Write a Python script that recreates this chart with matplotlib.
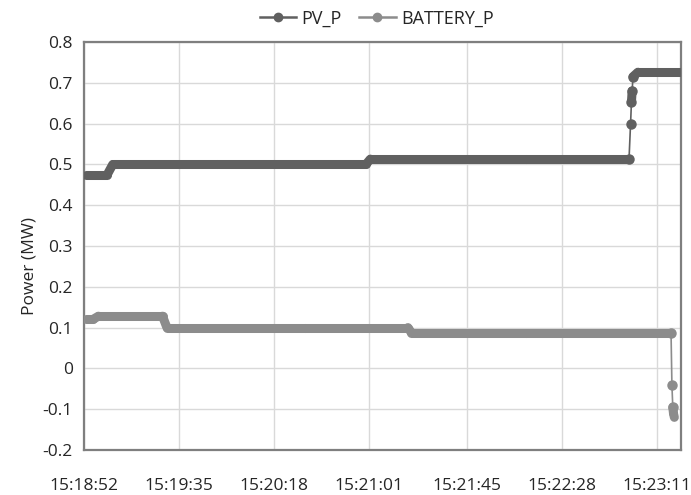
import matplotlib
matplotlib.use("Agg")
import matplotlib.pyplot as plt
import numpy as np
from matplotlib.collections import LineCollection
from matplotlib.lines import Line2D

# seconds after 15:18:52
pv_t = [1, 10.5, 13, 60, 127.5, 129.5, 200, 246.5, 247.2, 247.6, 247.9, 248.3, 250.5, 270]
pv_v = [0.475, 0.475, 0.50, 0.50, 0.50, 0.513, 0.513, 0.513, 0.60, 0.653, 0.68, 0.715, 0.726, 0.726]

bat_t = [1, 4, 6.5, 35.5, 37.5, 100, 146.5, 148, 200, 265.5, 265.9, 266.3, 266.6, 267]
bat_v = [0.12, 0.12, 0.128, 0.128, 0.10, 0.10, 0.10, 0.088, 0.088, 0.088, -0.041, -0.095, -0.11, -0.12]

tick_secs = [0, 43, 86, 129, 173, 216, 259]
tick_labels = ["15:18:52", "15:19:35", "15:20:18", "15:21:01", "15:21:45", "15:22:28", "15:23:11"]
y_ticks = [-0.2, -0.1, 0, 0.1, 0.2, 0.3, 0.4, 0.5, 0.6, 0.7, 0.8]
y_labels = ["-0.2", "-0.1", "0", "0.1", "0.2", "0.3", "0.4", "0.5", "0.6", "0.7", "0.8"]

plt.rcParams['font.family'] = ['Open Sans', 'DejaVu Sans']

fig = plt.figure(figsize=(6.91, 4.95), dpi=100)
ax = fig.add_axes([0.1216, 0.0909, 0.8639, 0.8242])

PV_C = "#606060"
BAT_C = "#8c8c8c"
TXT_C = "#262626"

def draw(t, v, color, z):
    t = np.asarray(t, float); v = np.asarray(v, float)
    pts = np.column_stack([t, v])
    segs = np.stack([pts[:-1], pts[1:]], axis=1)
    dv = np.abs(np.diff(v))
    lws = np.where(dv < 0.03, 6.5, 1.2)
    lc = LineCollection(segs, linewidths=lws, colors=color, capstyle='round',
                        joinstyle='round', zorder=z)
    ax.add_collection(lc)
    jump = np.zeros(len(v), bool)
    jump[1:] |= dv >= 0.03
    jump[:-1] |= dv >= 0.03
    ax.plot(t[jump], v[jump], 'o', color=color, ms=6.5, mec=color, zorder=z + 0.1, lw=0)

draw(pv_t, pv_v, PV_C, 3)
draw(bat_t, bat_v, BAT_C, 3)

ax.set_xlim(0, 270)
ax.set_ylim(-0.2, 0.8)
ax.set_xticks(tick_secs)
ax.set_xticklabels(tick_labels)
ax.set_yticks(y_ticks)
ax.set_yticklabels(y_labels)
ax.tick_params(axis='both', length=0, labelsize=12.5, colors=TXT_C)
ax.tick_params(axis='x', pad=20)
ax.tick_params(axis='y', pad=8)
ax.grid(True, color="#d9d9d9", lw=1.0, zorder=0)
ax.set_axisbelow(True)
for s in ax.spines.values():
    s.set_color("#7f7f7f")
    s.set_linewidth(1.6)

ax.set_ylabel("Power (MW)", fontsize=12.5, color=TXT_C)
ax.yaxis.set_label_coords(-0.078, 0.45)

handles = [Line2D([], [], color=PV_C, lw=1.8, marker='o', ms=6),
           Line2D([], [], color=BAT_C, lw=1.8, marker='o', ms=6)]
fig.legend(handles, ["PV_P", "BATTERY_P"], loc='center', bbox_to_anchor=(0.545, 0.963),
           ncol=2, frameon=False, fontsize=13, handlelength=2.0, columnspacing=1.0,
           handletextpad=0.3, labelcolor=TXT_C)

fig.savefig("out.png", dpi=100)
